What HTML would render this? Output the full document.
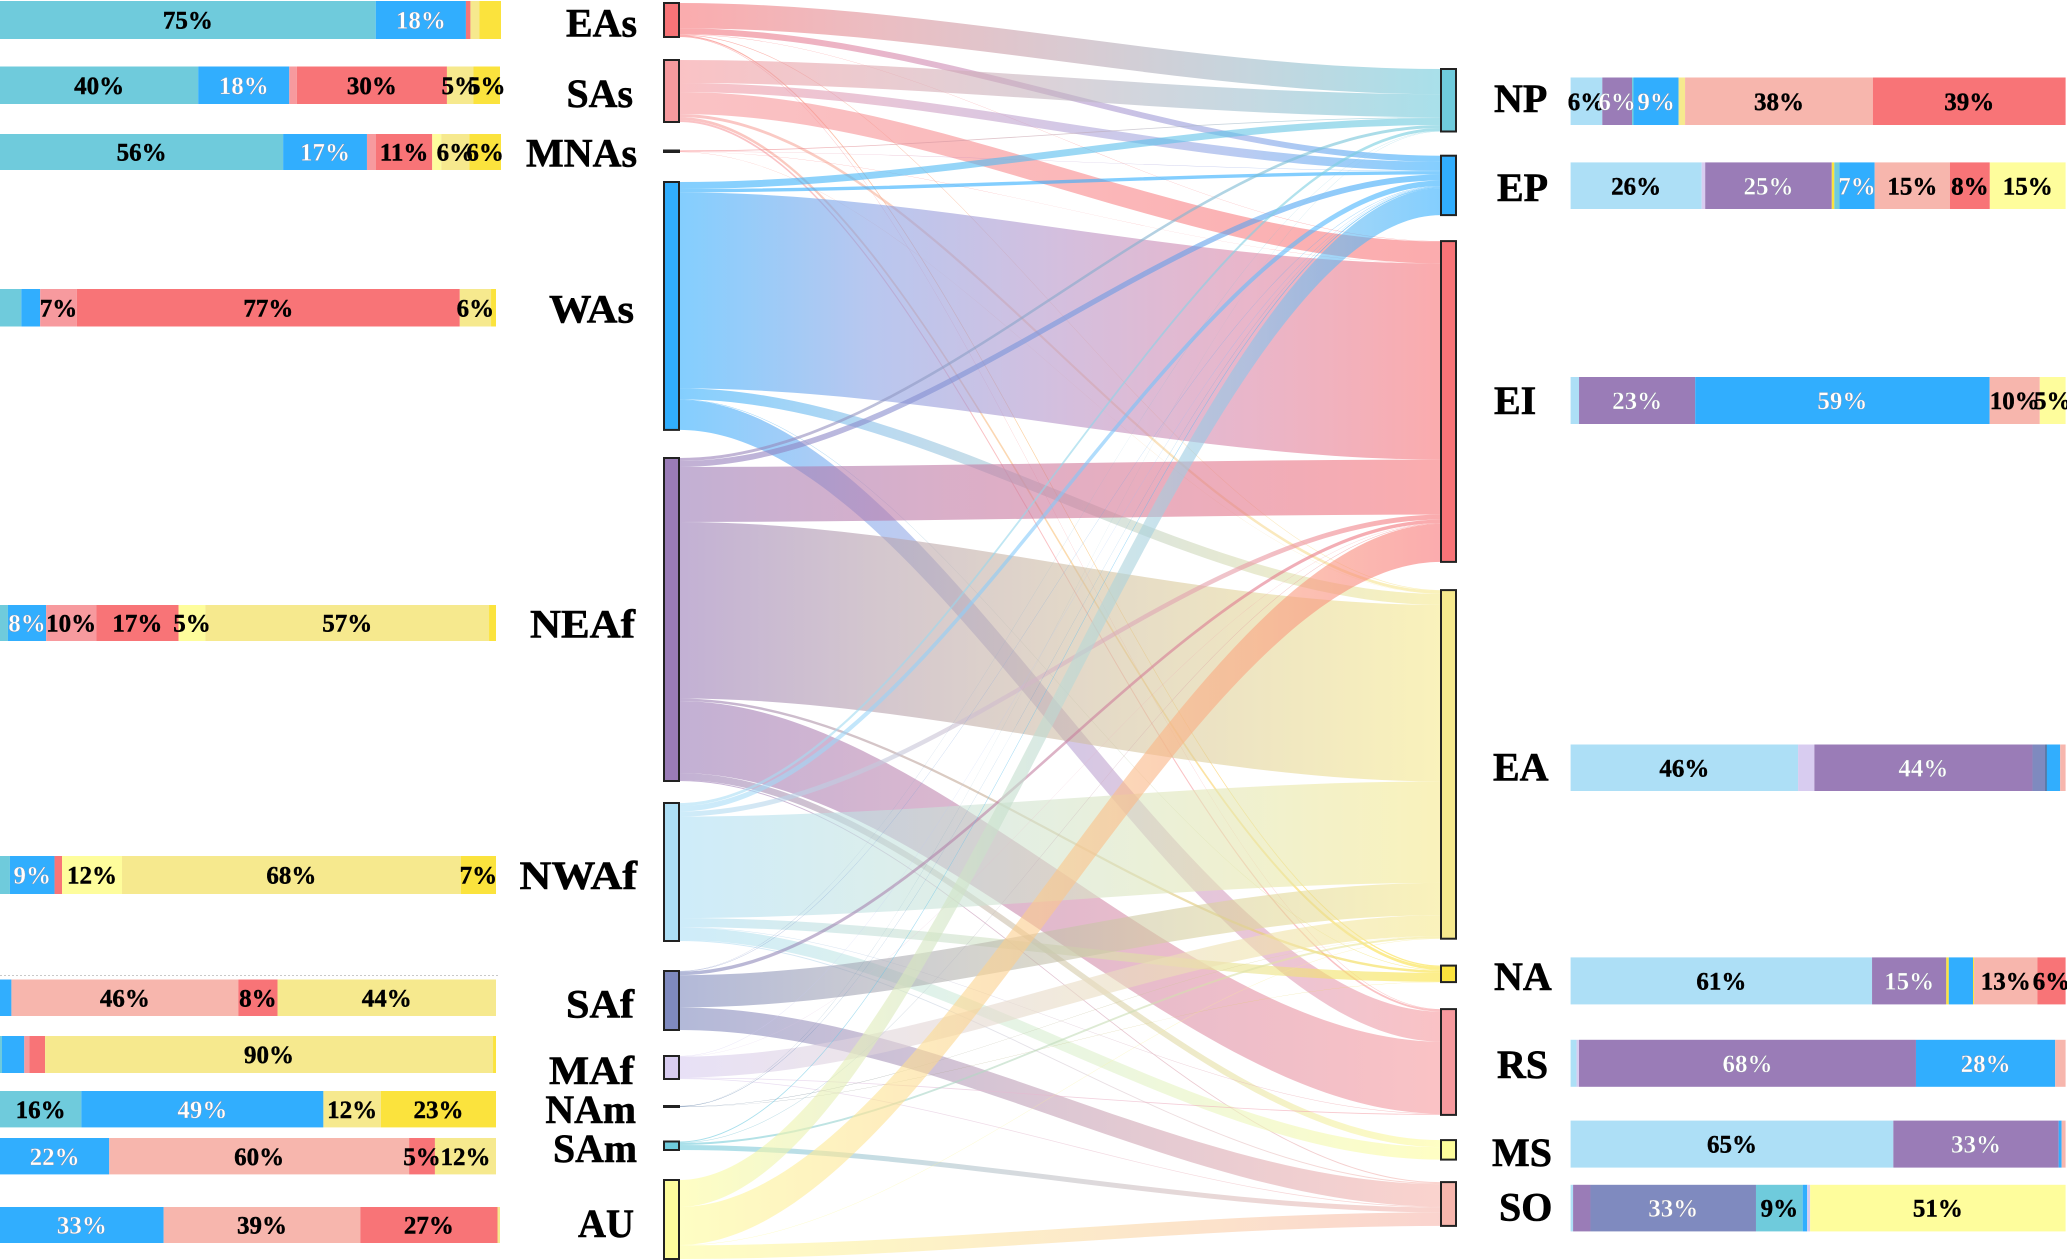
<!DOCTYPE html>
<html lang="en">
<head>
<meta charset="utf-8">
<title>Sankey of source regions and target seas with composition bars</title>
<style>
html,body{margin:0;padding:0;background:#fff;}
svg{display:block;}
text{font-family:"Liberation Serif",serif;font-weight:bold;}
</style>
</head>
<body>
<svg id="chart" xmlns="http://www.w3.org/2000/svg" width="2067" height="1260" viewBox="0 0 2067 1260">
  <defs id="grads"></defs>
  <rect x="0" y="0" width="2067" height="1260" fill="#ffffff"/>
  <line x1="0" y1="975.5" x2="500" y2="975.5" stroke="#c9c9c9" stroke-width="1" stroke-dasharray="2 2"/>
  <g id="links"></g>
  <g id="nodes"></g>
  <g id="left-bars"></g>
  <g id="right-bars"></g>
  <g id="labels"></g>
</svg>
<script>
// ---------- data: categories ----------
const sourceNames = ["EAs","SAs","MNAs","WAs","NEAf","NWAf","SAf","MAf","NAm","SAm","AU"];
const targetNames = ["NP","EP","EI","EA","NA","RS","MS","SO"];

// ---------- data: flow from each source into NP, EP, EI, EA, NA, RS, MS, SO ----------
const flowEAs  = [25.2, 6.1, 0.3, 0.6, 1.3, 0.5, 0, 0];
const flowSAs  = [23, 9, 22, 3, 3, 2, 0, 0];
const flowMNAs = [0.8, 0.3, 0.2, 0.2, 0, 0, 0, 0];
const flowWAs  = [7, 3.4, 196, 11, 0.5, 30, 0, 0];
const flowNEAf = [3, 6, 55, 176.5, 2.5, 72, 7, 1];
const flowNWAf = [3, 5.5, 5, 101.5, 9, 0.5, 12.5, 1];
const flowSAf  = [0.3, 0.4, 3.5, 32.3, 0, 0, 0, 22.5];
const flowMAf  = [0, 0.4, 0.3, 20.8, 0, 0.8, 0, 0.7];
const flowNAm  = [0.2, 0.3, 0, 0.3, 0.2, 0, 0, 0];
const flowSAm  = [0, 1, 0.5, 2, 0, 0, 0, 5];
const flowAU   = [0, 27, 38, 0.4, 0, 0, 0, 13.6];

// ---------- data: left bar shares (percent) and their colour keys ----------
const shareEAs  = [75, 18, 0.9, 1.8, 4.3];
const keysEAs   = ["teal","blue","red","tan","yellow"];
const shareSAs  = [39.6, 18.2, 1.5, 30, 5.3, 5.3];
const keysSAs   = ["teal","blue","pink","red","tan","yellow"];
const shareMNAs = [56.4, 16.7, 1.8, 11.2, 1.8, 5.6, 6.3];
const keysMNAs  = ["teal","blue","pink","red","pale","tan","yellow"];
const shareWAs  = [4.3, 3.8, 7.4, 77.2, 6.3, 1];
const keysWAs   = ["teal","blue","pink","red","tan","yellow"];
const shareNEAf = [1.6, 7.7, 10.1, 16.6, 5.4, 57.2, 1.4];
const keysNEAf  = ["teal","blue","pink","red","pale","tan","yellow"];
const shareNWAf = [2, 9, 1.5, 12.1, 68.3, 7.1];
const keysNWAf  = ["teal","blue","red","pale","tan","yellow"];
const shareSAf  = [2.3, 45.7, 7.9, 44];
const keysSAf   = ["blue","salmon","red","tan"];
const shareMAf  = [0.4, 4.5, 1, 3.2, 90.4, 0.6];
const keysMAf   = ["teal","blue","pink","red","tan","yellow"];
const shareNAm  = [16.4, 48.8, 11.6, 23.2];
const keysNAm   = ["teal","blue","tan","yellow"];
const shareSAm  = [22, 60.4, 5.2, 12.3];
const keysSAm   = ["blue","salmon","red","tan"];
const shareAU   = [32.7, 39.3, 27.4, 0.5];
const keysAU    = ["blue","salmon","red","tan"];

// ---------- data: right bar shares (percent) and their colour keys ----------
const shareNP = [6.4, 6, 0.3, 9.1, 1.3, 37.9, 38.9];
const keysNP  = ["sky","purple","teal","blue","tan","salmon","red"];
const shareEP = [26.3, 0.7, 25.4, 0.5, 1, 7.1, 15.1, 8, 15.2];
const keysEP  = ["sky","lilac","purple","yellow","teal","blue","salmon","red","pale"];
const shareEI = [1.7, 23.4, 59.3, 10.1, 5.2];
const keysEI  = ["sky","purple","blue","salmon","pale"];
const shareEA = [46, 3.3, 44.1, 2.6, 0.3, 2.7, 1.1];
const keysEA  = ["sky","lilac","purple","indigo","slate","blue","salmon"];
const shareNA = [60.9, 15, 0.5, 4.9, 0.2, 12.8, 5.7];
const keysNA  = ["sky","purple","yellow","blue","yellow","salmon","red"];
const shareRS = [1.2, 0.5, 68, 28.1, 2.1];
const keysRS  = ["sky","lilac","purple","blue","salmon"];
const shareMS = [65.2, 33.4, 0.6, 0.8];
const keysMS  = ["sky","purple","blue","salmon"];
const shareSO = [0.5, 3.5, 33.3, 9.4, 0.9, 0.6, 51.4];
const keysSO  = ["sky","purple","indigo","teal","blue","lilac","pale"];

// ---------- style ----------
const palette = {teal:"#6fcbdc",blue:"#31aefe",red:"#f87477",tan:"#f6e98e",yellow:"#fbe33d",pink:"#f79a9e",
  pale:"#fefd9c",salmon:"#f7b6ad",sky:"#addff6",purple:"#9a7cb7",lilac:"#d8ccf0",indigo:"#7f8abf",slate:"#3b5f8f"};
const sourceColorKeys = ["red","pink","red","blue","purple","sky","indigo","lilac","slate","teal","pale"];
const targetColorKeys = ["teal","blue","red","tan","yellow","pink","pale","salmon"];
const whiteTextKeys = ["blue","purple","indigo"];

// ---------- layout (not data) ----------
const NS = "http://www.w3.org/2000/svg";
const sourceNodeX = 664, targetNodeX = 1441, nodeW = 15, linkX0 = 679, linkX1 = 1441;
const curvature = 1 / 3;
const sourceGaps = [3, 23, 28.5, 30, 28.1, 22, 30, 26, 27, 34.5, 30];
const targetGaps = [69, 24.2, 26, 28.2, 26.9, 27, 25.2, 22.5];
const sourceLabelEnd = [637, 633, 637, 634, 635, 637, 634, 634, 636, 637, 634];
const sourceLabelLen = [71, 66.5, 111, 85, 105, 117.5, 68, 85, 90.6, 84, 56];
const sourceLabelBase = [36.7, 107, 166.5, 322.4, 637.5, 889, 1017.7, 1084, 1123, 1162, 1237];
const targetLabelStart = [1494, 1497, 1494, 1493, 1494, 1497, 1492, 1499];
const targetLabelBase = [112, 200.8, 414, 780.7, 990, 1078, 1166, 1220.6];
const leftRowTop = [1, 66.5, 134, 289, 605, 856, 979.5, 1036, 1091, 1138, 1207];
const leftRowH = [38, 37.5, 36, 37.5, 36, 38, 36.5, 37, 36.4, 36.4, 36];
const leftRowW = [501, 500, 501, 496, 496, 496, 496, 496, 496, 496, 500];
const rightRowTop = [77.5, 162.4, 377, 744.5, 957.4, 1039.8, 1120.6, 1184.8];
const rightRowH = [47.5, 46.6, 47, 46.5, 47, 47, 47, 46.6];
const rightBarX = 1570.6, rightBarW = 495;

const sourceFlows = [flowEAs, flowSAs, flowMNAs, flowWAs, flowNEAf, flowNWAf, flowSAf, flowMAf, flowNAm, flowSAm, flowAU];
const leftShares = [shareEAs, shareSAs, shareMNAs, shareWAs, shareNEAf, shareNWAf, shareSAf, shareMAf, shareNAm, shareSAm, shareAU];
const leftKeys = [keysEAs, keysSAs, keysMNAs, keysWAs, keysNEAf, keysNWAf, keysSAf, keysMAf, keysNAm, keysSAm, keysAU];
const rightShares = [shareNP, shareEP, shareEI, shareEA, shareNA, shareRS, shareMS, shareSO];
const rightKeys = [keysNP, keysEP, keysEI, keysEA, keysNA, keysRS, keysMS, keysSO];

function el(tag, attrs) {
  const node = document.createElementNS(NS, tag);
  for (const k in attrs) node.setAttribute(k, attrs[k]);
  return node;
}
function flowY(v) { return v * 1; }
function sum(a) { return a.reduce(function (s, v) { return s + v; }, 0); }

// colour mixing in linear light keeps gradient midpoints bright
function hexToLinear(hex) {
  return [1, 3, 5].map(function (i) {
    return Math.pow(parseInt(hex.substr(i, 2), 16) / 255, 2.2);
  });
}
function mixColor(a, b, t) {
  const la = hexToLinear(a), lb = hexToLinear(b);
  const out = la.map(function (v, i) {
    return Math.round(255 * Math.pow(v + (lb[i] - v) * t, 1 / 2.2));
  });
  return "rgb(" + out.join(",") + ")";
}

// ---------- sankey ----------
const sourceTotal = sourceFlows.map(sum);
const targetTotal = targetNames.map(function (_, t) {
  return sum(sourceFlows.map(function (f) { return f[t]; }));
});
function stackTops(totals, gaps) {
  const tops = [];
  let y = 0;
  totals.forEach(function (total, i) {
    y += gaps[i];
    tops.push(y);
    y += flowY(total);
  });
  return tops;
}
const sourceTop = stackTops(sourceTotal, sourceGaps);
const targetTop = stackTops(targetTotal, targetGaps);

const gradDefs = document.getElementById("grads");
const linksG = document.getElementById("links");
const targetCursor = targetTop.slice();
sourceFlows.forEach(function (flows, s) {
  let sy = sourceTop[s];
  flows.forEach(function (value, t) {
    const h = flowY(value);
    if (value > 0) {
      const gid = "grad-" + s + "-" + t;
      const grad = el("linearGradient", {id: gid, gradientUnits: "userSpaceOnUse", x1: linkX0, y1: 0, x2: linkX1, y2: 0});
      [0, 0.25, 0.5, 0.75, 1].forEach(function (offset) {
        grad.appendChild(el("stop", {offset: offset,
          "stop-color": mixColor(palette[sourceColorKeys[s]], palette[targetColorKeys[t]], offset),
          "stop-opacity": 0.6}));
      });
      gradDefs.appendChild(grad);
      const ty = targetCursor[t];
      const span = linkX1 - linkX0;
      const c0 = linkX0 + span * curvature, c1 = linkX1 - span * curvature;
      const d = "M" + linkX0 + "," + sy +
        "C" + c0 + "," + sy + " " + c1 + "," + ty + " " + linkX1 + "," + ty +
        "L" + linkX1 + "," + (ty + h) +
        "C" + c1 + "," + (ty + h) + " " + c0 + "," + (sy + h) + " " + linkX0 + "," + (sy + h) + "Z";
      const path = el("path", {d: d, fill: "url(#" + gid + ")"});
      
      
      linksG.appendChild(path);
    }
    sy += h;
    targetCursor[t] += h;
  });
});

const nodesG = document.getElementById("nodes");
const labelsG = document.getElementById("labels");
sourceNames.forEach(function (name, s) {
  const r = el("rect", {x: sourceNodeX, y: sourceTop[s], width: nodeW, height: flowY(sourceTotal[s]),
    fill: palette[sourceColorKeys[s]], stroke: "#222222", "stroke-width": 2});
  
  
  nodesG.appendChild(r);
  const t = el("text", {x: sourceLabelEnd[s], y: sourceLabelBase[s], "text-anchor": "end", "font-size": 40, fill: "#000",
    stroke: "#000", "stroke-width": 0.6, textLength: sourceLabelLen[s], lengthAdjust: "spacingAndGlyphs"});
  t.textContent = name;
  
  
  labelsG.appendChild(t);
});
targetNames.forEach(function (name, i) {
  const r = el("rect", {x: targetNodeX, y: targetTop[i], width: nodeW, height: flowY(targetTotal[i]),
    fill: palette[targetColorKeys[i]], stroke: "#222222", "stroke-width": 2});
  
  
  nodesG.appendChild(r);
  const t = el("text", {x: targetLabelStart[i], y: targetLabelBase[i], "font-size": 40, fill: "#000", stroke: "#000", "stroke-width": 0.6});
  t.textContent = name;
  
  
  labelsG.appendChild(t);
});

// ---------- stacked bars ----------
function drawBar(group, prefix, name, shares, keys, x0, width, top, height) {
  const total = sum(shares);
  const xScale = function (v) { return v / total * width; };
  const texts = [];
  let cum = 0;
  shares.forEach(function (v, i) {
    const x = x0 + xScale(cum);
    const w = xScale(v);
    const r = el("rect", {x: x, y: top, width: w, height: height, fill: palette[keys[i]]});
    
    
    group.appendChild(r);
    if (v >= 4.95) {
      const white = whiteTextKeys.indexOf(keys[i]) >= 0;
      const t = el("text", {x: x + w / 2, y: top + height / 2 + 8.6, "text-anchor": "middle", "font-size": 25,
        fill: white ? "#ffffff" : "#000000",
        stroke: white ? "#8a8aa0" : "#000000", "stroke-width": white ? 0.35 : 0.4});
      t.textContent = Math.round(v) + "%";
      
      
      texts.push(t);
    }
    cum += v;
  });
  texts.forEach(function (t) { group.appendChild(t); });
}
const leftG = document.getElementById("left-bars");
sourceNames.forEach(function (name, i) {
  drawBar(leftG, "source", name, leftShares[i], leftKeys[i], 0, leftRowW[i], leftRowTop[i], leftRowH[i]);
});
const rightG = document.getElementById("right-bars");
targetNames.forEach(function (name, i) {
  drawBar(rightG, "target", name, rightShares[i], rightKeys[i], rightBarX, rightBarW, rightRowTop[i], rightRowH[i]);
});
</script>
</body>
</html>
